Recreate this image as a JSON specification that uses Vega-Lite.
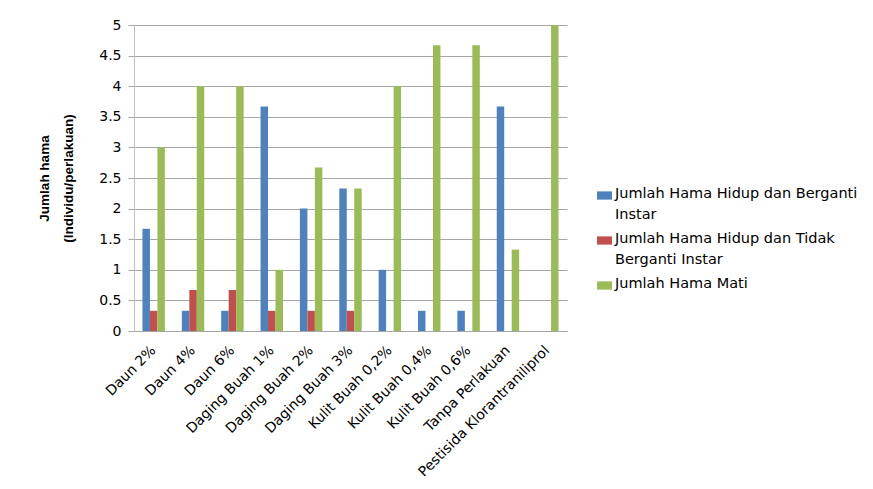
{
  "$schema": "https://vega.github.io/schema/vega-lite/v6.json",
  "width": 433,
  "height": 306,
  "autosize": {"type": "none"},
  "padding": {"left": 134, "top": 25, "right": 306, "bottom": 158},
  "background": "white",
  "config": {
    "view": {"stroke": null},
    "font": "DejaVu Sans"
  },
  "data": {
    "values": [
      {"perlakuan": "Daun 2%", "seri": "Jumlah Hama Hidup dan Berganti Instar", "nilai": 1.67},
      {"perlakuan": "Daun 2%", "seri": "Jumlah Hama Hidup dan Tidak Berganti Instar", "nilai": 0.33},
      {"perlakuan": "Daun 2%", "seri": "Jumlah Hama Mati", "nilai": 3},
      {"perlakuan": "Daun 4%", "seri": "Jumlah Hama Hidup dan Berganti Instar", "nilai": 0.33},
      {"perlakuan": "Daun 4%", "seri": "Jumlah Hama Hidup dan Tidak Berganti Instar", "nilai": 0.67},
      {"perlakuan": "Daun 4%", "seri": "Jumlah Hama Mati", "nilai": 4},
      {"perlakuan": "Daun 6%", "seri": "Jumlah Hama Hidup dan Berganti Instar", "nilai": 0.33},
      {"perlakuan": "Daun 6%", "seri": "Jumlah Hama Hidup dan Tidak Berganti Instar", "nilai": 0.67},
      {"perlakuan": "Daun 6%", "seri": "Jumlah Hama Mati", "nilai": 4},
      {"perlakuan": "Daging Buah 1%", "seri": "Jumlah Hama Hidup dan Berganti Instar", "nilai": 3.67},
      {"perlakuan": "Daging Buah 1%", "seri": "Jumlah Hama Hidup dan Tidak Berganti Instar", "nilai": 0.33},
      {"perlakuan": "Daging Buah 1%", "seri": "Jumlah Hama Mati", "nilai": 1},
      {"perlakuan": "Daging Buah 2%", "seri": "Jumlah Hama Hidup dan Berganti Instar", "nilai": 2},
      {"perlakuan": "Daging Buah 2%", "seri": "Jumlah Hama Hidup dan Tidak Berganti Instar", "nilai": 0.33},
      {"perlakuan": "Daging Buah 2%", "seri": "Jumlah Hama Mati", "nilai": 2.67},
      {"perlakuan": "Daging Buah 3%", "seri": "Jumlah Hama Hidup dan Berganti Instar", "nilai": 2.33},
      {"perlakuan": "Daging Buah 3%", "seri": "Jumlah Hama Hidup dan Tidak Berganti Instar", "nilai": 0.33},
      {"perlakuan": "Daging Buah 3%", "seri": "Jumlah Hama Mati", "nilai": 2.33},
      {"perlakuan": "Kulit Buah 0,2%", "seri": "Jumlah Hama Hidup dan Berganti Instar", "nilai": 1},
      {"perlakuan": "Kulit Buah 0,2%", "seri": "Jumlah Hama Hidup dan Tidak Berganti Instar", "nilai": 0},
      {"perlakuan": "Kulit Buah 0,2%", "seri": "Jumlah Hama Mati", "nilai": 4},
      {"perlakuan": "Kulit Buah 0,4%", "seri": "Jumlah Hama Hidup dan Berganti Instar", "nilai": 0.33},
      {"perlakuan": "Kulit Buah 0,4%", "seri": "Jumlah Hama Hidup dan Tidak Berganti Instar", "nilai": 0},
      {"perlakuan": "Kulit Buah 0,4%", "seri": "Jumlah Hama Mati", "nilai": 4.67},
      {"perlakuan": "Kulit Buah 0,6%", "seri": "Jumlah Hama Hidup dan Berganti Instar", "nilai": 0.33},
      {"perlakuan": "Kulit Buah 0,6%", "seri": "Jumlah Hama Hidup dan Tidak Berganti Instar", "nilai": 0},
      {"perlakuan": "Kulit Buah 0,6%", "seri": "Jumlah Hama Mati", "nilai": 4.67},
      {"perlakuan": "Tanpa Perlakuan", "seri": "Jumlah Hama Hidup dan Berganti Instar", "nilai": 3.67},
      {"perlakuan": "Tanpa Perlakuan", "seri": "Jumlah Hama Hidup dan Tidak Berganti Instar", "nilai": 0},
      {"perlakuan": "Tanpa Perlakuan", "seri": "Jumlah Hama Mati", "nilai": 1.33},
      {"perlakuan": "Pestisida Klorantraniliprol", "seri": "Jumlah Hama Hidup dan Berganti Instar", "nilai": 0},
      {"perlakuan": "Pestisida Klorantraniliprol", "seri": "Jumlah Hama Hidup dan Tidak Berganti Instar", "nilai": 0},
      {"perlakuan": "Pestisida Klorantraniliprol", "seri": "Jumlah Hama Mati", "nilai": 5}
    ]
  },
  "mark": {"type": "bar"},
  "encoding": {
    "x": {
      "field": "perlakuan",
      "type": "nominal",
      "sort": null,
      "scale": {"paddingInner": 0.43, "paddingOuter": 0.215},
      "axis": {
        "title": null,
        "labelAngle": -45,
        "labelAlign": "right",
        "labelBaseline": "middle",
        "labelFontSize": 14,
        "labelColor": "#000000",
        "labelPadding": 17,
        "labelLimit": 400,
        "ticks": false,
        "domainColor": "#a6a6a6",
        "grid": false
      }
    },
    "xOffset": {"field": "seri", "type": "nominal", "sort": null},
    "y": {
      "field": "nilai",
      "type": "quantitative",
      "scale": {"domain": [0, 5], "nice": false},
      "axis": {
        "values": [0, 0.5, 1, 1.5, 2, 2.5, 3, 3.5, 4, 4.5, 5],
        "format": "",
        "labelFontSize": 14,
        "labelColor": "#000000",
        "labelPadding": 7,
        "tickSize": 6,
        "tickColor": "#a6a6a6",
        "domainColor": "#bfbfbf",
        "gridColor": "#a6a6a6",
        "title": ["Jumlah hama", "(Individu/perlakuan)"],
        "titleFont": "Liberation Sans",
        "titleFontSize": 13.5,
        "titleFontWeight": "bold",
        "titleColor": "#000000",
        "titleAngle": -90,
        "titleBaseline": "top",
        "titleAlign": "center",
        "titleLineHeight": 24,
        "titleX": -97,
        "titleY": 153
      }
    },
    "color": {
      "field": "seri",
      "type": "nominal",
      "sort": null,
      "scale": {
        "domain": ["Jumlah Hama Hidup dan Berganti Instar", "Jumlah Hama Hidup dan Tidak Berganti Instar", "Jumlah Hama Mati"],
        "range": ["#4F81BD", "#C0504D", "#9BBB59"]
      },
      "legend": {
        "title": null,
        "orient": "none",
        "legendX": 463,
        "legendY": 163,
        "padding": 0,
        "symbolType": "M-1,-0.55H1V0.55H-1Z",
        "symbolSize": 225,
        "symbolStrokeWidth": 0,
        "labelFontSize": 14.5,
        "labelColor": "#000000",
        "labelOffset": 3,
        "labelLimit": 400,
        "labelBaseline": "top",
        "rowPadding": 9,
        "encode": {"labels": {"update": {"dy": {"value": -9}, "lineHeight": {"value": 21}}}},
        "labelExpr": "datum.label == 'Jumlah Hama Hidup dan Berganti Instar' ? ['Jumlah Hama Hidup dan Berganti', 'Instar'] : datum.label == 'Jumlah Hama Hidup dan Tidak Berganti Instar' ? ['Jumlah Hama Hidup dan Tidak', 'Berganti Instar'] : datum.label"
      }
    }
  }
}
